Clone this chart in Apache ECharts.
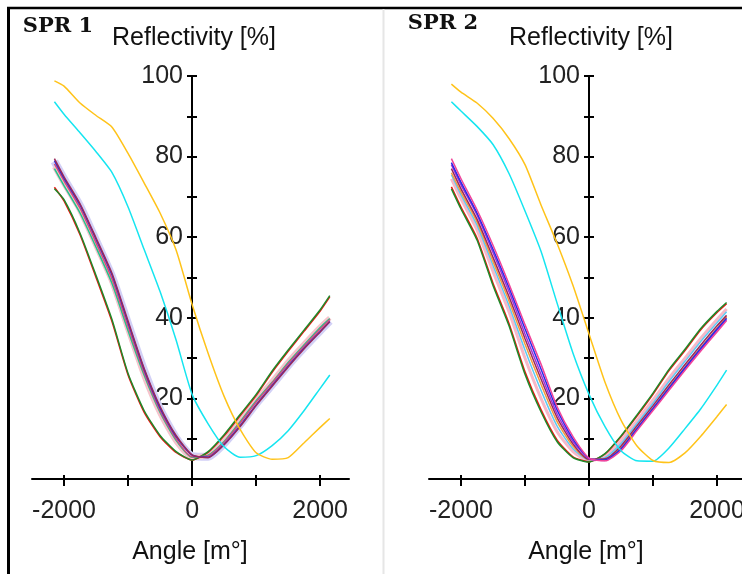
<!DOCTYPE html>
<html>
<head>
<meta charset="utf-8">
<title>SPR reflectivity</title>
<script src="https://cdn.jsdelivr.net/npm/echarts@6/dist/echarts.min.js"></script>
<style>
  html, body { margin: 0; padding: 0; background: #fff; }
  #chart { width: 742px; height: 574px; }
</style>
</head>
<body>
<div id="chart"></div>
<script>
// angle [m°] shared by every curve
const angles = [-2150, -2000, -1750, -1500, -1250, -1000, -750, -500, -250, 0, 250, 500, 750, 1000, 1250, 1500, 1750, 2000, 2150]

// SPR 1 reflectivity [%]
const spr1Yellow = [98.8, 97.5, 93.3, 90.2, 87.3, 80.8, 73.5, 66.0, 56.8, 43.3, 31.2, 20.5, 12.3, 6.5, 4.9, 5.3, 9.0, 12.8, 15.0]
const spr1Cyan = [93.6, 90.5, 85.9, 81.2, 76.0, 67.5, 57.0, 46.5, 34.5, 21.0, 13.7, 8.0, 5.4, 5.8, 8.3, 12.0, 17.0, 22.5, 25.8]
const spr1Green = [72.0, 69.3, 61.0, 50.5, 39.5, 26.2, 17.0, 10.8, 6.8, 4.7, 6.8, 11.0, 16.0, 21.0, 26.8, 32.0, 37.0, 42.0, 45.5]
const spr1Red = [72.4, 69.0, 60.6, 50.0, 39.0, 25.8, 16.6, 10.5, 6.6, 4.7, 6.6, 10.7, 15.7, 20.7, 26.5, 31.7, 36.7, 41.7, 45.2]
const spr1Lavender = [78.8, 74.5, 67.8, 59.2, 50.2, 38.5, 27.0, 17.3, 10.2, 5.7, 5.5, 8.8, 13.5, 18.7, 23.4, 28.2, 32.6, 36.8, 39.2]
const spr1Pink = [77.5, 73.2, 66.5, 57.8, 48.8, 37.0, 25.5, 16.2, 9.3, 5.3, 6.0, 9.5, 14.4, 19.6, 24.3, 29.2, 33.6, 37.8, 40.0]
const spr1Teal = [77.0, 72.8, 66.0, 57.5, 48.5, 36.8, 25.8, 16.5, 9.6, 5.4, 5.9, 9.3, 14.2, 19.4, 24.0, 28.9, 33.3, 37.6, 39.8]
const spr1Rose = [78.2, 74.0, 67.2, 58.6, 49.6, 37.8, 26.4, 16.9, 9.9, 5.5, 5.7, 9.1, 13.9, 19.1, 23.8, 28.6, 33.0, 37.2, 39.6]
const spr1Blue = [79.0, 74.6, 68.0, 59.5, 50.6, 38.8, 27.2, 17.6, 10.5, 5.9, 5.4, 8.6, 13.2, 18.4, 23.2, 28.0, 32.5, 36.6, 39.1]
const spr1Maroon = [79.5, 75.0, 68.3, 59.8, 51.0, 39.2, 27.5, 18.0, 10.8, 6.0, 5.3, 8.5, 13.0, 18.2, 23.0, 27.8, 32.3, 36.5, 39.0]

// SPR 2 reflectivity [%]
const spr2Yellow = [98.0, 96.0, 93.3, 89.5, 84.5, 78.0, 68.0, 58.5, 48.0, 36.0, 24.0, 14.6, 8.2, 4.6, 4.1, 6.5, 10.7, 15.5, 18.5]
const spr2Cyan = [93.6, 91.3, 87.5, 83.0, 75.8, 66.5, 56.5, 43.7, 31.2, 21.0, 13.0, 7.0, 4.5, 4.4, 7.7, 12.5, 17.5, 23.3, 27.0]
const spr2Green = [72.0, 67.0, 59.3, 48.0, 38.0, 26.0, 16.7, 9.3, 5.3, 4.2, 6.3, 10.7, 15.9, 21.3, 27.2, 32.2, 37.4, 41.6, 43.8]
const spr2Red = [72.5, 67.5, 59.8, 48.6, 38.6, 26.6, 17.2, 9.7, 5.5, 4.3, 6.2, 10.5, 15.6, 21.0, 26.9, 31.9, 37.1, 41.3, 43.5]
const spr2Pink = [74.5, 69.5, 61.8, 51.5, 41.5, 30.0, 20.0, 11.8, 6.8, 4.5, 5.6, 9.5, 14.5, 19.6, 25.0, 30.0, 35.0, 39.6, 42.2]
const spr2LightBlue = [75.5, 70.5, 63.0, 53.0, 43.0, 32.0, 22.0, 13.2, 7.5, 4.7, 5.3, 8.8, 13.8, 18.8, 24.2, 29.2, 34.2, 38.8, 41.5]
const spr2Orange = [76.0, 71.2, 63.8, 54.0, 44.2, 33.5, 23.5, 14.3, 8.1, 4.8, 4.8, 7.8, 12.6, 17.6, 22.8, 27.8, 32.7, 37.4, 40.2]
const spr2Maroon = [77.0, 72.0, 64.5, 55.0, 45.3, 34.8, 24.8, 15.3, 8.7, 4.9, 5.0, 8.2, 13.2, 18.2, 23.4, 28.4, 33.3, 38.0, 40.6]
const spr2Purple = [78.0, 73.0, 65.5, 56.2, 46.5, 36.0, 26.0, 16.2, 9.3, 5.0, 4.6, 7.3, 12.3, 17.3, 22.3, 27.3, 32.2, 36.9, 39.6]
const spr2Blue = [78.5, 73.6, 66.0, 57.0, 47.5, 37.3, 27.3, 17.2, 9.9, 5.1, 4.7, 7.5, 12.5, 17.5, 22.6, 27.6, 32.5, 37.2, 39.9]
const spr2Magenta = [79.5, 74.5, 66.8, 58.0, 48.4, 38.3, 28.5, 18.0, 10.5, 5.2, 4.5, 7.0, 12.0, 17.0, 22.0, 27.0, 31.8, 36.5, 39.3]

// axis ticks / labels
const xTicks = [-2000, -1000, 0, 1000, 2000]
const xLabels = [-2000, 0, 2000]
const yLabels = [20, 40, 60, 80, 100]

const font = 'Liberation Sans, Arial, sans-serif'
// the value axis sits at angle 0, i.e. 2500 m° * 0.064 px from the grid's left edge
const yAxisShift = -160

function pairs(values) {
  return angles.map((a, i) => [a, values[i]])
}

function line(name, values, color, width, xIdx, yIdx) {
  return {
    name: name,
    type: 'line',
    xAxisIndex: xIdx,
    yAxisIndex: yIdx,
    showSymbol: false,
    smooth: 0.2,
    data: pairs(values),
    lineStyle: { color: color, width: width },
    itemStyle: { color: color },
    silent: true
  }
}

function xAxes(gridIndex, max) {
  return [{
    type: 'value', gridIndex: gridIndex, min: -2500, max: max, position: 'bottom',
    axisLine: { onZero: false, lineStyle: { color: '#000', width: 2 } },
    axisTick: { inside: false, length: 7, customValues: xTicks, lineStyle: { color: '#000', width: 2 } },
    axisLabel: { customValues: xLabels, margin: 20, color: '#222', fontSize: 25, fontFamily: font, formatter: v => String(v) },
    splitLine: { show: false }
  }, {
    type: 'value', gridIndex: gridIndex, min: -2500, max: max, position: 'bottom',
    axisLine: { show: false, onZero: false },
    axisTick: { inside: true, length: 4, customValues: xTicks, lineStyle: { color: '#000', width: 2 } },
    axisLabel: { show: false },
    splitLine: { show: false }
  }]
}

function yAxes(gridIndex) {
  return [{
    type: 'value', gridIndex: gridIndex, min: 0, max: 100, interval: 10, position: 'left', offset: yAxisShift,
    axisLine: { show: true, onZero: false, lineStyle: { color: '#000', width: 2 } },
    axisTick: { inside: false, length: 5, lineStyle: { color: '#000', width: 2 } },
    axisLabel: { customValues: yLabels, margin: 9, color: '#222', fontSize: 25, fontFamily: font },
    splitLine: { show: false }
  }, {
    type: 'value', gridIndex: gridIndex, min: 0, max: 100, interval: 10, position: 'left', offset: yAxisShift,
    axisLine: { show: false, onZero: false },
    axisTick: { inside: true, length: 5, lineStyle: { color: '#000', width: 2 } },
    axisLabel: { show: false },
    splitLine: { show: false }
  }]
}

function label(text, x, y, size, family, weight) {
  return {
    type: 'text', x: x, y: y, silent: true,
    style: { text: text, fill: '#111', font: weight + ' ' + size + 'px ' + family, align: 'center', verticalAlign: 'middle' }
  }
}

const chart = echarts.init(document.getElementById('chart'), null, { renderer: 'canvas' })

chart.setOption({
  backgroundColor: '#fff',
  animation: false,
  grid: [
    { left: 32, top: 76, width: 317, height: 403, outerBoundsMode: 'none', containLabel: false },
    { left: 429, top: 76, width: 320, height: 403, outerBoundsMode: 'none', containLabel: false }
  ],
  xAxis: [].concat(xAxes(0, 2450), xAxes(1, 2500)),
  yAxis: [].concat(yAxes(0), yAxes(1)),
  series: [
    // SPR 1
    line('S1 lavender', spr1Lavender, '#d2d0f6', 8, 0, 0),
    line('S1 pink', spr1Pink, '#f6c4cc', 5, 0, 0),
    line('S1 red', spr1Red, '#ee1111', 1.5, 0, 0),
    line('S1 green', spr1Green, '#1f8a2a', 1.5, 0, 0),
    line('S1 teal', spr1Teal, '#22c48c', 1.5, 0, 0),
    line('S1 rose', spr1Rose, '#d4507a', 1.5, 0, 0),
    line('S1 blue', spr1Blue, '#2a2ad8', 1.5, 0, 0),
    line('S1 maroon', spr1Maroon, '#9a2a5a', 1.5, 0, 0),
    line('S1 cyan', spr1Cyan, '#15e5f0', 1.5, 0, 0),
    line('S1 yellow', spr1Yellow, '#ffc31a', 1.5, 0, 0),
    // SPR 2
    line('S2 pink', spr2Pink, '#f7b8c8', 3, 2, 2),
    line('S2 red', spr2Red, '#ee1111', 1.5, 2, 2),
    line('S2 green', spr2Green, '#1f8a2a', 1.5, 2, 2),
    line('S2 light blue', spr2LightBlue, '#5ccaf5', 1.5, 2, 2),
    line('S2 orange', spr2Orange, '#f59a3a', 1.5, 2, 2),
    line('S2 maroon', spr2Maroon, '#9a2a5a', 1.5, 2, 2),
    line('S2 purple', spr2Purple, '#a030d8', 1.5, 2, 2),
    line('S2 blue', spr2Blue, '#2a2ae8', 1.5, 2, 2),
    line('S2 magenta', spr2Magenta, '#f0449a', 1.5, 2, 2),
    line('S2 cyan', spr2Cyan, '#15e5f0', 1.5, 2, 2),
    line('S2 yellow', spr2Yellow, '#ffc31a', 1.5, 2, 2)
  ],
  graphic: [
    // window frame
    { type: 'line', silent: true, shape: { x1: 7, y1: 8, x2: 742, y2: 8 }, style: { stroke: '#000', lineWidth: 2.5 } },
    { type: 'line', silent: true, shape: { x1: 8.5, y1: 7, x2: 8.5, y2: 574 }, style: { stroke: '#000', lineWidth: 3 } },
    { type: 'line', silent: true, shape: { x1: 383.5, y1: 9, x2: 383.5, y2: 574 }, style: { stroke: '#e6e6e6', lineWidth: 2 } },
    label('SPR 1', 58, 27, 21, 'DejaVu Serif, serif', 'bold'),
    label('SPR 2', 443, 24, 21, 'DejaVu Serif, serif', 'bold'),
    label('Reflectivity [%]', 194, 38.5, 25, font, 'normal'),
    label('Reflectivity [%]', 591, 38.5, 25, font, 'normal'),
    label('Angle [m°]', 190, 552.5, 25, font, 'normal'),
    label('Angle [m°]', 586, 552.5, 25, font, 'normal')
  ]
})
</script>
</body>
</html>
